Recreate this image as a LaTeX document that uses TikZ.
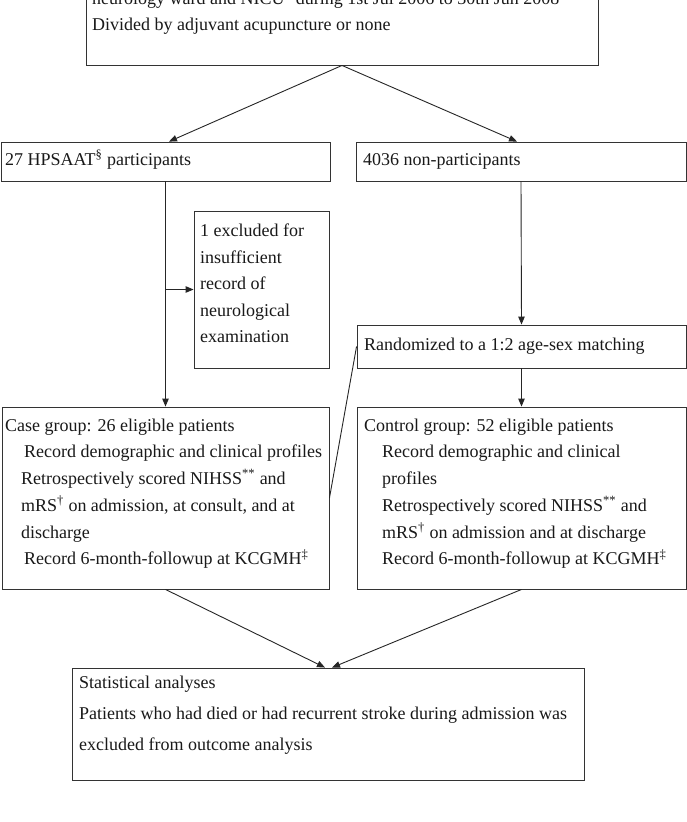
\documentclass[tikz,border=0pt]{standalone}
\usepackage{fontspec}
\setmainfont{Liberation Serif}
\usetikzlibrary{arrows.meta}
\begin{document}
\begin{tikzpicture}[x=1pt,y=-1pt,
  box/.style={draw=black!80, line width=0.9pt, inner sep=0pt, rectangle},
  txt/.style={anchor=base west, inner sep=0pt, font=\fontsize{18}{22}\selectfont, text=black!90},
  conn/.style={draw=black!85, line width=0.9pt},
  arr/.style={conn, -{Triangle[length=8pt,width=6.5pt]}}]
\useasboundingbox (0,0) rectangle (687,822);
\fill[white] (0,0) rectangle (687,822);
\clip (0,0) rectangle (687,822);

% boxes
\node[box, minimum width=512pt, minimum height=125pt] (top) at (342,2.5) {};
\node[box, minimum width=329pt, minimum height=39pt] (hps) at (165.5,161.5) {};
\node[box, minimum width=330pt, minimum height=39pt] (non) at (521,161.5) {};
\node[box, minimum width=135pt, minimum height=157pt] (excl) at (261.5,289.5) {};
\node[box, minimum width=329pt, minimum height=43pt] (rand) at (521.5,346.5) {};
\node[box, minimum width=327pt, minimum height=182pt] (case) at (165.5,498) {};
\node[box, minimum width=329pt, minimum height=182pt] (ctrl) at (521.5,498) {};
\node[box, minimum width=512pt, minimum height=112pt] (stat) at (328,724) {};

% texts
\node[txt] (ta) at (92,4) {neurology ward and NICU\textsuperscript{*} during 1st Jul 2006 to 30th Jun 2008};
\node[txt] (tb) at (92,30) {Divided by adjuvant acupuncture or none};

\node[txt] (tc) at (5,165) {27 HPSAAT\textsuperscript{§} participants};
\node[txt] (td) at (363,165) {4036 non-participants};

\node[txt] (e1) at (200,236) {1 excluded for};
\node[txt] (e2) at (200,263) {insufficient};
\node[txt] (e3) at (200,289) {record of};
\node[txt] (e4) at (200,316) {neurological};
\node[txt] (e5) at (200,342) {examination};

\node[txt] (r1) at (364,350) {Randomized to a 1:2 age-sex matching};

\node[txt] (c1) at (5,431) {Case group: 26 eligible patients};
\node[txt] (c2) at (24,457.5) {Record demographic and clinical profiles};
\node[txt] (c3) at (21,484) {Retrospectively scored NIHSS\textsuperscript{**} and};
\node[txt] (c4) at (21,511) {mRS\textsuperscript{†} on admission, at consult, and at};
\node[txt] (c5) at (21,538) {discharge};
\node[txt] (c6) at (24,564.5) {Record 6-month-followup at KCGMH\textsuperscript{‡}};

\node[txt] (k1) at (364,431) {Control group: 52 eligible patients};
\node[txt] (k2) at (382,457.5) {Record demographic and clinical};
\node[txt] (k3) at (382,484) {profiles};
\node[txt] (k4) at (382,511) {Retrospectively scored NIHSS\textsuperscript{**} and};
\node[txt] (k5) at (382,538) {mRS\textsuperscript{†} on admission and at discharge};
\node[txt] (k6) at (382,564.5) {Record 6-month-followup at KCGMH\textsuperscript{‡}};

\node[txt] (s1) at (79,688) {Statistical analyses};
\node[txt] (s2) at (79,719) {Patients who had died or had recurrent stroke during admission was};
\node[txt] (s3) at (79,750) {excluded from outcome analysis};

% connectors
\draw[arr] (top.south) -- (hps.north -| 169,0);
\draw[arr] (top.south) -- (non.north -| 517,0);
\draw[arr] (hps.south) -- (case.north);
\draw[arr] (excl.west -| hps.south) -- (excl.west);
\draw[arr] (non.south) -- (rand.north);
\draw[arr] (rand.south) -- (ctrl.north);
\draw[conn] (rand.west) -- (case.east);
\draw[arr] (case.south) -- (stat.north -| 325,0);
\draw[arr] (ctrl.south) -- (stat.north -| 332,0);
\end{tikzpicture}
\end{document}
